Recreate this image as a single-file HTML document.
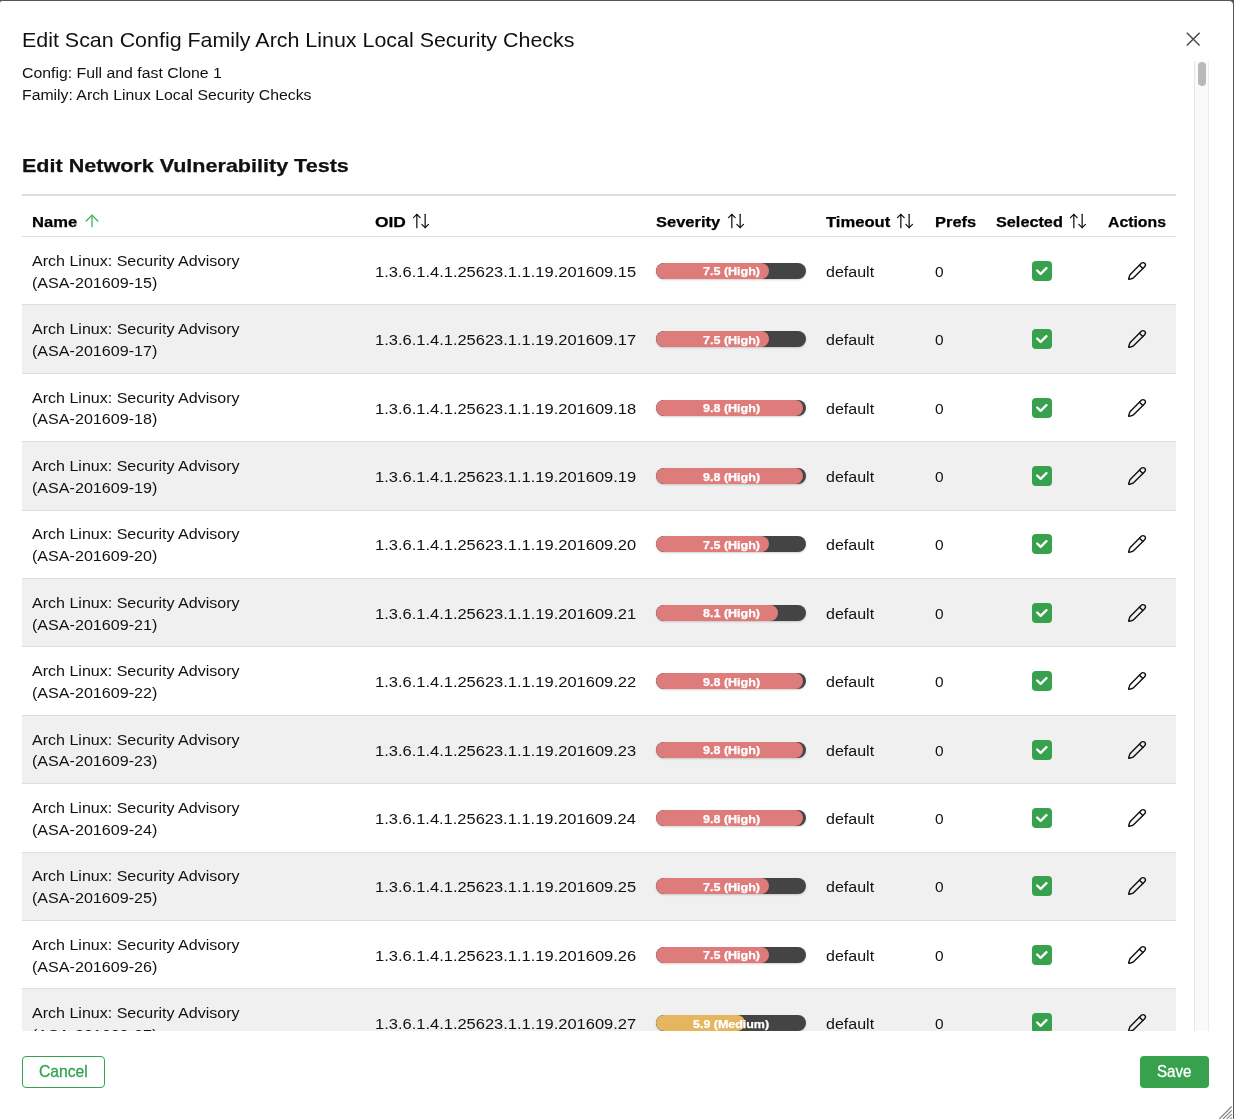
<!DOCTYPE html>
<html><head><meta charset="utf-8"><title>Edit Scan Config Family</title>
<style>
html,body{margin:0;padding:0;}
html{width:1234px;height:1119px;overflow:hidden;}
body{width:1234px;height:1119px;overflow:hidden;background:#555;position:relative;font-family:"Liberation Sans",sans-serif;}
#modal{position:absolute;left:0;top:1px;width:1233px;height:1118px;background:#fff;border-radius:2px 4px 0 0;overflow:hidden;}
#page{position:absolute;left:0;top:-1px;width:1234px;height:1119px;will-change:transform;}
.t{position:absolute;white-space:nowrap;line-height:1;transform-origin:0 50%;display:block;}
.ic{position:absolute;display:block;}
.sb{-webkit-text-stroke:0.3px currentColor;}
.vb{-webkit-text-stroke:0.25px currentColor;}
#scroll{position:absolute;left:0;top:61px;width:1194px;height:970px;overflow:hidden;}
#scroll .in{position:absolute;left:0;top:-61px;width:1194px;}
.row{position:absolute;left:22px;width:1154px;height:67.4px;border-bottom:1px solid #dedede;}
.row.g{background:#f0f0f0;}
.bar{position:absolute;left:634px;top:25.9px;width:150px;height:16px;border-radius:8px;background:#444;overflow:hidden;box-shadow:0 1px 2px rgba(0,0,0,.18);}
.bar i{position:absolute;left:0;top:0;height:16px;border-radius:8px;display:block;}
.cb{position:absolute;width:20px;height:20px;border-radius:4px;background:#37a14d;}
#track{position:absolute;left:1194px;top:61px;width:15px;height:970px;background:#fafafa;box-sizing:border-box;border-left:1px solid #e6e6e6;border-right:1px solid #ececec;}
#thumb{position:absolute;left:1198px;top:62px;width:8px;height:24px;border-radius:4px;background:#b9b9b9;}
.btn{position:absolute;top:1056px;height:32px;box-sizing:border-box;border-radius:4px;}
</style></head><body><div id="modal"><div id="page">

<span class="t" style="left:22.23px;top:27.00px;font-size:20.2px;line-height:26px;font-weight:400;color:#111;transform:scaleX(1.0611)">Edit Scan Config Family Arch Linux Local Security Checks</span>
<span class="t" style="left:22.00px;top:63.00px;font-size:14.75px;line-height:20px;font-weight:400;color:#111;transform:scaleX(1.0733)">Config: Full and fast Clone 1</span>
<span class="t" style="left:21.70px;top:85.00px;font-size:14.75px;line-height:20px;font-weight:400;color:#111;transform:scaleX(1.0700)">Family: Arch Linux Local Security Checks</span>
<span class="t vb" style="left:22.37px;top:153.00px;font-size:19.0px;line-height:25px;font-weight:700;color:#111;transform:scaleX(1.1338)">Edit Network Vulnerability Tests</span>
<svg class="ic" style="left:1183px;top:29px" width="20" height="20" viewBox="0 0 20 20" fill="none" stroke="#4a4a4a" stroke-width="1.5" stroke-linecap="butt"><path d="M3.8 3.7 16.6 16.5M16.6 3.7 3.8 16.5"/></svg>
<div id="scroll"><div class="in">
<div style="position:absolute;left:22px;top:194px;width:1154px;height:2px;background:#dedede"></div>
<div style="position:absolute;left:22px;top:236px;width:1154px;height:1px;background:#dedede"></div>
<span class="t vb" style="left:32.29px;top:212.00px;font-size:14.75px;line-height:20px;font-weight:700;color:#000;transform:scaleX(1.1237)">Name</span>
<span class="t vb" style="left:375.34px;top:212.00px;font-size:14.75px;line-height:20px;font-weight:700;color:#000;transform:scaleX(1.1791)">OID</span>
<span class="t vb" style="left:656.31px;top:212.00px;font-size:14.75px;line-height:20px;font-weight:700;color:#000;transform:scaleX(1.1187)">Severity</span>
<span class="t vb" style="left:825.70px;top:212.00px;font-size:14.75px;line-height:20px;font-weight:700;color:#000;transform:scaleX(1.1263)">Timeout</span>
<span class="t vb" style="left:935.10px;top:212.00px;font-size:14.75px;line-height:20px;font-weight:700;color:#000;transform:scaleX(1.1156)">Prefs</span>
<span class="t vb" style="left:996.12px;top:212.00px;font-size:14.75px;line-height:20px;font-weight:700;color:#000;transform:scaleX(1.1014)">Selected</span>
<span class="t vb" style="left:1108.06px;top:212.00px;font-size:14.75px;line-height:20px;font-weight:700;color:#000;transform:scaleX(1.0712)">Actions</span>
<svg class="ic" style="left:82px;top:211px" width="20" height="20" viewBox="0 0 24 24" fill="none" stroke="#3db15c" stroke-width="1.5" stroke-linecap="round" stroke-linejoin="round"><path d="m5 12 7-7 7 7"/><path d="M12 19V5"/></svg>
<svg class="ic" style="left:411px;top:211px" width="20" height="20" viewBox="0 0 24 24" fill="none" stroke="#111" stroke-width="1.5" stroke-linecap="round" stroke-linejoin="round"><path d="m21 16-4 4-4-4"/><path d="M17 20V4"/><path d="m3 8 4-4 4 4"/><path d="M7 4v16"/></svg>
<svg class="ic" style="left:726px;top:211px" width="20" height="20" viewBox="0 0 24 24" fill="none" stroke="#111" stroke-width="1.5" stroke-linecap="round" stroke-linejoin="round"><path d="m21 16-4 4-4-4"/><path d="M17 20V4"/><path d="m3 8 4-4 4 4"/><path d="M7 4v16"/></svg>
<svg class="ic" style="left:895px;top:211px" width="20" height="20" viewBox="0 0 24 24" fill="none" stroke="#111" stroke-width="1.5" stroke-linecap="round" stroke-linejoin="round"><path d="m21 16-4 4-4-4"/><path d="M17 20V4"/><path d="m3 8 4-4 4 4"/><path d="M7 4v16"/></svg>
<svg class="ic" style="left:1068px;top:211px" width="20" height="20" viewBox="0 0 24 24" fill="none" stroke="#111" stroke-width="1.5" stroke-linecap="round" stroke-linejoin="round"><path d="m21 16-4 4-4-4"/><path d="M17 20V4"/><path d="m3 8 4-4 4 4"/><path d="M7 4v16"/></svg>
<div class="row" style="top:237.0px">
<span class="t" style="left:10.31px;top:13.90px;font-size:14.75px;line-height:20px;font-weight:400;color:#111;transform:scaleX(1.0868)">Arch Linux: Security Advisory</span>
<span class="t" style="left:9.71px;top:35.60px;font-size:14.75px;line-height:20px;font-weight:400;color:#111;transform:scaleX(1.0912)">(ASA-201609-15)</span>
<span class="t" style="left:353.18px;top:24.75px;font-size:14.75px;line-height:20px;font-weight:400;color:#111;transform:scaleX(1.1172)">1.3.6.1.4.1.25623.1.1.19.201609.15</span>
<span class="t" style="left:804.05px;top:24.75px;font-size:14.75px;line-height:20px;font-weight:400;color:#111;transform:scaleX(1.0863)">default</span>
<span class="t" style="left:913.14px;top:24.75px;font-size:14.75px;line-height:20px;font-weight:400;color:#111;transform:scaleX(1.0465)">0</span>
<div class="bar"><i style="width:112.5px;background:#de7b7b"></i></div>
<span class="t vb" style="left:680.56px;top:27.40px;font-size:10.3px;line-height:15px;font-weight:700;color:#fff;transform:scaleX(1.2155)">7.5 (High)</span>
<div class="cb" style="left:1010px;top:23.9px"><svg viewBox="0 0 10 7" width="11.6" height="8.1" style="position:absolute;left:4.2px;top:6px"><path d="M4 4.586L1.707 2.293A1 1 0 1 0 .293 3.707l3 3a.997.997 0 0 0 1.414 0l5-5A1 1 0 1 0 8.293.293L4 4.586z" fill="#fff" fill-rule="evenodd" clip-rule="evenodd"/></svg></div>
<svg class="ic" style="left:1105px;top:23.9px" width="20" height="20" viewBox="0 0 24 24" fill="none" stroke="#111" stroke-width="1.7" stroke-linecap="round" stroke-linejoin="round"><path d="M21.174 6.812a1 1 0 0 0-3.986-3.987L3.842 16.174a2 2 0 0 0-.5.83l-1.321 4.352a.5.5 0 0 0 .623.622l4.353-1.32a2 2 0 0 0 .83-.497z"/><path d="m15 5 4 4"/></svg>
</div>
<div class="row g" style="top:305.4px">
<span class="t" style="left:10.31px;top:13.90px;font-size:14.75px;line-height:20px;font-weight:400;color:#111;transform:scaleX(1.0868)">Arch Linux: Security Advisory</span>
<span class="t" style="left:9.71px;top:35.60px;font-size:14.75px;line-height:20px;font-weight:400;color:#111;transform:scaleX(1.0912)">(ASA-201609-17)</span>
<span class="t" style="left:353.18px;top:24.75px;font-size:14.75px;line-height:20px;font-weight:400;color:#111;transform:scaleX(1.1172)">1.3.6.1.4.1.25623.1.1.19.201609.17</span>
<span class="t" style="left:804.05px;top:24.75px;font-size:14.75px;line-height:20px;font-weight:400;color:#111;transform:scaleX(1.0863)">default</span>
<span class="t" style="left:913.14px;top:24.75px;font-size:14.75px;line-height:20px;font-weight:400;color:#111;transform:scaleX(1.0465)">0</span>
<div class="bar"><i style="width:112.5px;background:#de7b7b"></i></div>
<span class="t vb" style="left:680.56px;top:27.40px;font-size:10.3px;line-height:15px;font-weight:700;color:#fff;transform:scaleX(1.2155)">7.5 (High)</span>
<div class="cb" style="left:1010px;top:23.9px"><svg viewBox="0 0 10 7" width="11.6" height="8.1" style="position:absolute;left:4.2px;top:6px"><path d="M4 4.586L1.707 2.293A1 1 0 1 0 .293 3.707l3 3a.997.997 0 0 0 1.414 0l5-5A1 1 0 1 0 8.293.293L4 4.586z" fill="#fff" fill-rule="evenodd" clip-rule="evenodd"/></svg></div>
<svg class="ic" style="left:1105px;top:23.9px" width="20" height="20" viewBox="0 0 24 24" fill="none" stroke="#111" stroke-width="1.7" stroke-linecap="round" stroke-linejoin="round"><path d="M21.174 6.812a1 1 0 0 0-3.986-3.987L3.842 16.174a2 2 0 0 0-.5.83l-1.321 4.352a.5.5 0 0 0 .623.622l4.353-1.32a2 2 0 0 0 .83-.497z"/><path d="m15 5 4 4"/></svg>
</div>
<div class="row" style="top:373.8px">
<span class="t" style="left:10.31px;top:13.90px;font-size:14.75px;line-height:20px;font-weight:400;color:#111;transform:scaleX(1.0868)">Arch Linux: Security Advisory</span>
<span class="t" style="left:9.71px;top:35.60px;font-size:14.75px;line-height:20px;font-weight:400;color:#111;transform:scaleX(1.0912)">(ASA-201609-18)</span>
<span class="t" style="left:353.18px;top:24.75px;font-size:14.75px;line-height:20px;font-weight:400;color:#111;transform:scaleX(1.1172)">1.3.6.1.4.1.25623.1.1.19.201609.18</span>
<span class="t" style="left:804.05px;top:24.75px;font-size:14.75px;line-height:20px;font-weight:400;color:#111;transform:scaleX(1.0863)">default</span>
<span class="t" style="left:913.14px;top:24.75px;font-size:14.75px;line-height:20px;font-weight:400;color:#111;transform:scaleX(1.0465)">0</span>
<div class="bar"><i style="width:147.0px;background:#de7b7b"></i></div>
<span class="t vb" style="left:680.53px;top:27.40px;font-size:10.3px;line-height:15px;font-weight:700;color:#fff;transform:scaleX(1.2163)">9.8 (High)</span>
<div class="cb" style="left:1010px;top:23.9px"><svg viewBox="0 0 10 7" width="11.6" height="8.1" style="position:absolute;left:4.2px;top:6px"><path d="M4 4.586L1.707 2.293A1 1 0 1 0 .293 3.707l3 3a.997.997 0 0 0 1.414 0l5-5A1 1 0 1 0 8.293.293L4 4.586z" fill="#fff" fill-rule="evenodd" clip-rule="evenodd"/></svg></div>
<svg class="ic" style="left:1105px;top:23.9px" width="20" height="20" viewBox="0 0 24 24" fill="none" stroke="#111" stroke-width="1.7" stroke-linecap="round" stroke-linejoin="round"><path d="M21.174 6.812a1 1 0 0 0-3.986-3.987L3.842 16.174a2 2 0 0 0-.5.83l-1.321 4.352a.5.5 0 0 0 .623.622l4.353-1.32a2 2 0 0 0 .83-.497z"/><path d="m15 5 4 4"/></svg>
</div>
<div class="row g" style="top:442.2px">
<span class="t" style="left:10.31px;top:13.90px;font-size:14.75px;line-height:20px;font-weight:400;color:#111;transform:scaleX(1.0868)">Arch Linux: Security Advisory</span>
<span class="t" style="left:9.71px;top:35.60px;font-size:14.75px;line-height:20px;font-weight:400;color:#111;transform:scaleX(1.0912)">(ASA-201609-19)</span>
<span class="t" style="left:353.18px;top:24.75px;font-size:14.75px;line-height:20px;font-weight:400;color:#111;transform:scaleX(1.1172)">1.3.6.1.4.1.25623.1.1.19.201609.19</span>
<span class="t" style="left:804.05px;top:24.75px;font-size:14.75px;line-height:20px;font-weight:400;color:#111;transform:scaleX(1.0863)">default</span>
<span class="t" style="left:913.14px;top:24.75px;font-size:14.75px;line-height:20px;font-weight:400;color:#111;transform:scaleX(1.0465)">0</span>
<div class="bar"><i style="width:147.0px;background:#de7b7b"></i></div>
<span class="t vb" style="left:680.53px;top:27.40px;font-size:10.3px;line-height:15px;font-weight:700;color:#fff;transform:scaleX(1.2163)">9.8 (High)</span>
<div class="cb" style="left:1010px;top:23.9px"><svg viewBox="0 0 10 7" width="11.6" height="8.1" style="position:absolute;left:4.2px;top:6px"><path d="M4 4.586L1.707 2.293A1 1 0 1 0 .293 3.707l3 3a.997.997 0 0 0 1.414 0l5-5A1 1 0 1 0 8.293.293L4 4.586z" fill="#fff" fill-rule="evenodd" clip-rule="evenodd"/></svg></div>
<svg class="ic" style="left:1105px;top:23.9px" width="20" height="20" viewBox="0 0 24 24" fill="none" stroke="#111" stroke-width="1.7" stroke-linecap="round" stroke-linejoin="round"><path d="M21.174 6.812a1 1 0 0 0-3.986-3.987L3.842 16.174a2 2 0 0 0-.5.83l-1.321 4.352a.5.5 0 0 0 .623.622l4.353-1.32a2 2 0 0 0 .83-.497z"/><path d="m15 5 4 4"/></svg>
</div>
<div class="row" style="top:510.6px">
<span class="t" style="left:10.31px;top:13.90px;font-size:14.75px;line-height:20px;font-weight:400;color:#111;transform:scaleX(1.0868)">Arch Linux: Security Advisory</span>
<span class="t" style="left:9.71px;top:35.60px;font-size:14.75px;line-height:20px;font-weight:400;color:#111;transform:scaleX(1.0912)">(ASA-201609-20)</span>
<span class="t" style="left:353.18px;top:24.75px;font-size:14.75px;line-height:20px;font-weight:400;color:#111;transform:scaleX(1.1172)">1.3.6.1.4.1.25623.1.1.19.201609.20</span>
<span class="t" style="left:804.05px;top:24.75px;font-size:14.75px;line-height:20px;font-weight:400;color:#111;transform:scaleX(1.0863)">default</span>
<span class="t" style="left:913.14px;top:24.75px;font-size:14.75px;line-height:20px;font-weight:400;color:#111;transform:scaleX(1.0465)">0</span>
<div class="bar"><i style="width:112.5px;background:#de7b7b"></i></div>
<span class="t vb" style="left:680.56px;top:27.40px;font-size:10.3px;line-height:15px;font-weight:700;color:#fff;transform:scaleX(1.2155)">7.5 (High)</span>
<div class="cb" style="left:1010px;top:23.9px"><svg viewBox="0 0 10 7" width="11.6" height="8.1" style="position:absolute;left:4.2px;top:6px"><path d="M4 4.586L1.707 2.293A1 1 0 1 0 .293 3.707l3 3a.997.997 0 0 0 1.414 0l5-5A1 1 0 1 0 8.293.293L4 4.586z" fill="#fff" fill-rule="evenodd" clip-rule="evenodd"/></svg></div>
<svg class="ic" style="left:1105px;top:23.9px" width="20" height="20" viewBox="0 0 24 24" fill="none" stroke="#111" stroke-width="1.7" stroke-linecap="round" stroke-linejoin="round"><path d="M21.174 6.812a1 1 0 0 0-3.986-3.987L3.842 16.174a2 2 0 0 0-.5.83l-1.321 4.352a.5.5 0 0 0 .623.622l4.353-1.32a2 2 0 0 0 .83-.497z"/><path d="m15 5 4 4"/></svg>
</div>
<div class="row g" style="top:579.0px">
<span class="t" style="left:10.31px;top:13.90px;font-size:14.75px;line-height:20px;font-weight:400;color:#111;transform:scaleX(1.0868)">Arch Linux: Security Advisory</span>
<span class="t" style="left:9.71px;top:35.60px;font-size:14.75px;line-height:20px;font-weight:400;color:#111;transform:scaleX(1.0912)">(ASA-201609-21)</span>
<span class="t" style="left:353.18px;top:24.75px;font-size:14.75px;line-height:20px;font-weight:400;color:#111;transform:scaleX(1.1172)">1.3.6.1.4.1.25623.1.1.19.201609.21</span>
<span class="t" style="left:804.05px;top:24.75px;font-size:14.75px;line-height:20px;font-weight:400;color:#111;transform:scaleX(1.0863)">default</span>
<span class="t" style="left:913.14px;top:24.75px;font-size:14.75px;line-height:20px;font-weight:400;color:#111;transform:scaleX(1.0465)">0</span>
<div class="bar"><i style="width:121.5px;background:#de7b7b"></i></div>
<span class="t vb" style="left:680.56px;top:27.40px;font-size:10.3px;line-height:15px;font-weight:700;color:#fff;transform:scaleX(1.2155)">8.1 (High)</span>
<div class="cb" style="left:1010px;top:23.9px"><svg viewBox="0 0 10 7" width="11.6" height="8.1" style="position:absolute;left:4.2px;top:6px"><path d="M4 4.586L1.707 2.293A1 1 0 1 0 .293 3.707l3 3a.997.997 0 0 0 1.414 0l5-5A1 1 0 1 0 8.293.293L4 4.586z" fill="#fff" fill-rule="evenodd" clip-rule="evenodd"/></svg></div>
<svg class="ic" style="left:1105px;top:23.9px" width="20" height="20" viewBox="0 0 24 24" fill="none" stroke="#111" stroke-width="1.7" stroke-linecap="round" stroke-linejoin="round"><path d="M21.174 6.812a1 1 0 0 0-3.986-3.987L3.842 16.174a2 2 0 0 0-.5.83l-1.321 4.352a.5.5 0 0 0 .623.622l4.353-1.32a2 2 0 0 0 .83-.497z"/><path d="m15 5 4 4"/></svg>
</div>
<div class="row" style="top:647.4px">
<span class="t" style="left:10.31px;top:13.90px;font-size:14.75px;line-height:20px;font-weight:400;color:#111;transform:scaleX(1.0868)">Arch Linux: Security Advisory</span>
<span class="t" style="left:9.71px;top:35.60px;font-size:14.75px;line-height:20px;font-weight:400;color:#111;transform:scaleX(1.0912)">(ASA-201609-22)</span>
<span class="t" style="left:353.18px;top:24.75px;font-size:14.75px;line-height:20px;font-weight:400;color:#111;transform:scaleX(1.1172)">1.3.6.1.4.1.25623.1.1.19.201609.22</span>
<span class="t" style="left:804.05px;top:24.75px;font-size:14.75px;line-height:20px;font-weight:400;color:#111;transform:scaleX(1.0863)">default</span>
<span class="t" style="left:913.14px;top:24.75px;font-size:14.75px;line-height:20px;font-weight:400;color:#111;transform:scaleX(1.0465)">0</span>
<div class="bar"><i style="width:147.0px;background:#de7b7b"></i></div>
<span class="t vb" style="left:680.53px;top:27.40px;font-size:10.3px;line-height:15px;font-weight:700;color:#fff;transform:scaleX(1.2163)">9.8 (High)</span>
<div class="cb" style="left:1010px;top:23.9px"><svg viewBox="0 0 10 7" width="11.6" height="8.1" style="position:absolute;left:4.2px;top:6px"><path d="M4 4.586L1.707 2.293A1 1 0 1 0 .293 3.707l3 3a.997.997 0 0 0 1.414 0l5-5A1 1 0 1 0 8.293.293L4 4.586z" fill="#fff" fill-rule="evenodd" clip-rule="evenodd"/></svg></div>
<svg class="ic" style="left:1105px;top:23.9px" width="20" height="20" viewBox="0 0 24 24" fill="none" stroke="#111" stroke-width="1.7" stroke-linecap="round" stroke-linejoin="round"><path d="M21.174 6.812a1 1 0 0 0-3.986-3.987L3.842 16.174a2 2 0 0 0-.5.83l-1.321 4.352a.5.5 0 0 0 .623.622l4.353-1.32a2 2 0 0 0 .83-.497z"/><path d="m15 5 4 4"/></svg>
</div>
<div class="row g" style="top:715.8px">
<span class="t" style="left:10.31px;top:13.90px;font-size:14.75px;line-height:20px;font-weight:400;color:#111;transform:scaleX(1.0868)">Arch Linux: Security Advisory</span>
<span class="t" style="left:9.71px;top:35.60px;font-size:14.75px;line-height:20px;font-weight:400;color:#111;transform:scaleX(1.0912)">(ASA-201609-23)</span>
<span class="t" style="left:353.18px;top:24.75px;font-size:14.75px;line-height:20px;font-weight:400;color:#111;transform:scaleX(1.1172)">1.3.6.1.4.1.25623.1.1.19.201609.23</span>
<span class="t" style="left:804.05px;top:24.75px;font-size:14.75px;line-height:20px;font-weight:400;color:#111;transform:scaleX(1.0863)">default</span>
<span class="t" style="left:913.14px;top:24.75px;font-size:14.75px;line-height:20px;font-weight:400;color:#111;transform:scaleX(1.0465)">0</span>
<div class="bar"><i style="width:147.0px;background:#de7b7b"></i></div>
<span class="t vb" style="left:680.53px;top:27.40px;font-size:10.3px;line-height:15px;font-weight:700;color:#fff;transform:scaleX(1.2163)">9.8 (High)</span>
<div class="cb" style="left:1010px;top:23.9px"><svg viewBox="0 0 10 7" width="11.6" height="8.1" style="position:absolute;left:4.2px;top:6px"><path d="M4 4.586L1.707 2.293A1 1 0 1 0 .293 3.707l3 3a.997.997 0 0 0 1.414 0l5-5A1 1 0 1 0 8.293.293L4 4.586z" fill="#fff" fill-rule="evenodd" clip-rule="evenodd"/></svg></div>
<svg class="ic" style="left:1105px;top:23.9px" width="20" height="20" viewBox="0 0 24 24" fill="none" stroke="#111" stroke-width="1.7" stroke-linecap="round" stroke-linejoin="round"><path d="M21.174 6.812a1 1 0 0 0-3.986-3.987L3.842 16.174a2 2 0 0 0-.5.83l-1.321 4.352a.5.5 0 0 0 .623.622l4.353-1.32a2 2 0 0 0 .83-.497z"/><path d="m15 5 4 4"/></svg>
</div>
<div class="row" style="top:784.2px">
<span class="t" style="left:10.31px;top:13.90px;font-size:14.75px;line-height:20px;font-weight:400;color:#111;transform:scaleX(1.0868)">Arch Linux: Security Advisory</span>
<span class="t" style="left:9.71px;top:35.60px;font-size:14.75px;line-height:20px;font-weight:400;color:#111;transform:scaleX(1.0912)">(ASA-201609-24)</span>
<span class="t" style="left:353.18px;top:24.75px;font-size:14.75px;line-height:20px;font-weight:400;color:#111;transform:scaleX(1.1157)">1.3.6.1.4.1.25623.1.1.19.201609.24</span>
<span class="t" style="left:804.05px;top:24.75px;font-size:14.75px;line-height:20px;font-weight:400;color:#111;transform:scaleX(1.0863)">default</span>
<span class="t" style="left:913.14px;top:24.75px;font-size:14.75px;line-height:20px;font-weight:400;color:#111;transform:scaleX(1.0465)">0</span>
<div class="bar"><i style="width:147.0px;background:#de7b7b"></i></div>
<span class="t vb" style="left:680.53px;top:27.40px;font-size:10.3px;line-height:15px;font-weight:700;color:#fff;transform:scaleX(1.2163)">9.8 (High)</span>
<div class="cb" style="left:1010px;top:23.9px"><svg viewBox="0 0 10 7" width="11.6" height="8.1" style="position:absolute;left:4.2px;top:6px"><path d="M4 4.586L1.707 2.293A1 1 0 1 0 .293 3.707l3 3a.997.997 0 0 0 1.414 0l5-5A1 1 0 1 0 8.293.293L4 4.586z" fill="#fff" fill-rule="evenodd" clip-rule="evenodd"/></svg></div>
<svg class="ic" style="left:1105px;top:23.9px" width="20" height="20" viewBox="0 0 24 24" fill="none" stroke="#111" stroke-width="1.7" stroke-linecap="round" stroke-linejoin="round"><path d="M21.174 6.812a1 1 0 0 0-3.986-3.987L3.842 16.174a2 2 0 0 0-.5.83l-1.321 4.352a.5.5 0 0 0 .623.622l4.353-1.32a2 2 0 0 0 .83-.497z"/><path d="m15 5 4 4"/></svg>
</div>
<div class="row g" style="top:852.6px">
<span class="t" style="left:10.31px;top:13.90px;font-size:14.75px;line-height:20px;font-weight:400;color:#111;transform:scaleX(1.0868)">Arch Linux: Security Advisory</span>
<span class="t" style="left:9.71px;top:35.60px;font-size:14.75px;line-height:20px;font-weight:400;color:#111;transform:scaleX(1.0912)">(ASA-201609-25)</span>
<span class="t" style="left:353.18px;top:24.75px;font-size:14.75px;line-height:20px;font-weight:400;color:#111;transform:scaleX(1.1172)">1.3.6.1.4.1.25623.1.1.19.201609.25</span>
<span class="t" style="left:804.05px;top:24.75px;font-size:14.75px;line-height:20px;font-weight:400;color:#111;transform:scaleX(1.0863)">default</span>
<span class="t" style="left:913.14px;top:24.75px;font-size:14.75px;line-height:20px;font-weight:400;color:#111;transform:scaleX(1.0465)">0</span>
<div class="bar"><i style="width:112.5px;background:#de7b7b"></i></div>
<span class="t vb" style="left:680.56px;top:27.40px;font-size:10.3px;line-height:15px;font-weight:700;color:#fff;transform:scaleX(1.2155)">7.5 (High)</span>
<div class="cb" style="left:1010px;top:23.9px"><svg viewBox="0 0 10 7" width="11.6" height="8.1" style="position:absolute;left:4.2px;top:6px"><path d="M4 4.586L1.707 2.293A1 1 0 1 0 .293 3.707l3 3a.997.997 0 0 0 1.414 0l5-5A1 1 0 1 0 8.293.293L4 4.586z" fill="#fff" fill-rule="evenodd" clip-rule="evenodd"/></svg></div>
<svg class="ic" style="left:1105px;top:23.9px" width="20" height="20" viewBox="0 0 24 24" fill="none" stroke="#111" stroke-width="1.7" stroke-linecap="round" stroke-linejoin="round"><path d="M21.174 6.812a1 1 0 0 0-3.986-3.987L3.842 16.174a2 2 0 0 0-.5.83l-1.321 4.352a.5.5 0 0 0 .623.622l4.353-1.32a2 2 0 0 0 .83-.497z"/><path d="m15 5 4 4"/></svg>
</div>
<div class="row" style="top:921.0px">
<span class="t" style="left:10.31px;top:13.90px;font-size:14.75px;line-height:20px;font-weight:400;color:#111;transform:scaleX(1.0868)">Arch Linux: Security Advisory</span>
<span class="t" style="left:9.71px;top:35.60px;font-size:14.75px;line-height:20px;font-weight:400;color:#111;transform:scaleX(1.0912)">(ASA-201609-26)</span>
<span class="t" style="left:353.18px;top:24.75px;font-size:14.75px;line-height:20px;font-weight:400;color:#111;transform:scaleX(1.1172)">1.3.6.1.4.1.25623.1.1.19.201609.26</span>
<span class="t" style="left:804.05px;top:24.75px;font-size:14.75px;line-height:20px;font-weight:400;color:#111;transform:scaleX(1.0863)">default</span>
<span class="t" style="left:913.14px;top:24.75px;font-size:14.75px;line-height:20px;font-weight:400;color:#111;transform:scaleX(1.0465)">0</span>
<div class="bar"><i style="width:112.5px;background:#de7b7b"></i></div>
<span class="t vb" style="left:680.56px;top:27.40px;font-size:10.3px;line-height:15px;font-weight:700;color:#fff;transform:scaleX(1.2155)">7.5 (High)</span>
<div class="cb" style="left:1010px;top:23.9px"><svg viewBox="0 0 10 7" width="11.6" height="8.1" style="position:absolute;left:4.2px;top:6px"><path d="M4 4.586L1.707 2.293A1 1 0 1 0 .293 3.707l3 3a.997.997 0 0 0 1.414 0l5-5A1 1 0 1 0 8.293.293L4 4.586z" fill="#fff" fill-rule="evenodd" clip-rule="evenodd"/></svg></div>
<svg class="ic" style="left:1105px;top:23.9px" width="20" height="20" viewBox="0 0 24 24" fill="none" stroke="#111" stroke-width="1.7" stroke-linecap="round" stroke-linejoin="round"><path d="M21.174 6.812a1 1 0 0 0-3.986-3.987L3.842 16.174a2 2 0 0 0-.5.83l-1.321 4.352a.5.5 0 0 0 .623.622l4.353-1.32a2 2 0 0 0 .83-.497z"/><path d="m15 5 4 4"/></svg>
</div>
<div class="row g" style="top:989.4px">
<span class="t" style="left:10.31px;top:13.90px;font-size:14.75px;line-height:20px;font-weight:400;color:#111;transform:scaleX(1.0868)">Arch Linux: Security Advisory</span>
<span class="t" style="left:9.71px;top:35.60px;font-size:14.75px;line-height:20px;font-weight:400;color:#111;transform:scaleX(1.0912)">(ASA-201609-27)</span>
<span class="t" style="left:353.18px;top:24.75px;font-size:14.75px;line-height:20px;font-weight:400;color:#111;transform:scaleX(1.1172)">1.3.6.1.4.1.25623.1.1.19.201609.27</span>
<span class="t" style="left:804.05px;top:24.75px;font-size:14.75px;line-height:20px;font-weight:400;color:#111;transform:scaleX(1.0863)">default</span>
<span class="t" style="left:913.14px;top:24.75px;font-size:14.75px;line-height:20px;font-weight:400;color:#111;transform:scaleX(1.0465)">0</span>
<div class="bar"><i style="width:88.5px;background:#e5b55f"></i></div>
<span class="t vb" style="left:671.03px;top:27.40px;font-size:10.3px;line-height:15px;font-weight:700;color:#fff;transform:scaleX(1.2089)">5.9 (Medium)</span>
<div class="cb" style="left:1010px;top:23.9px"><svg viewBox="0 0 10 7" width="11.6" height="8.1" style="position:absolute;left:4.2px;top:6px"><path d="M4 4.586L1.707 2.293A1 1 0 1 0 .293 3.707l3 3a.997.997 0 0 0 1.414 0l5-5A1 1 0 1 0 8.293.293L4 4.586z" fill="#fff" fill-rule="evenodd" clip-rule="evenodd"/></svg></div>
<svg class="ic" style="left:1105px;top:23.9px" width="20" height="20" viewBox="0 0 24 24" fill="none" stroke="#111" stroke-width="1.7" stroke-linecap="round" stroke-linejoin="round"><path d="M21.174 6.812a1 1 0 0 0-3.986-3.987L3.842 16.174a2 2 0 0 0-.5.83l-1.321 4.352a.5.5 0 0 0 .623.622l4.353-1.32a2 2 0 0 0 .83-.497z"/><path d="m15 5 4 4"/></svg>
</div>
</div></div>
<div id="track"></div><div id="thumb"></div>
<div class="btn" style="left:22px;width:83px;border:1px solid #37a14d;background:#fff"></div>
<div class="btn" style="left:1140px;width:69px;background:#37a14d"></div>
<span class="t sb" style="left:39.09px;top:1061.00px;font-size:15.9px;line-height:21px;font-weight:400;color:#2da44a;transform:scaleX(0.9852)">Cancel</span>
<span class="t sb" style="left:1157.28px;top:1061.00px;font-size:15.9px;line-height:21px;font-weight:400;color:#fff;transform:scaleX(0.9488)">Save</span>
<svg class="ic" style="left:1214px;top:1100px" width="19" height="19" viewBox="0 0 19 19" fill="none" stroke="#828282" stroke-width="1.15"><path d="M5.2 19 17.7 6.5M9 19 17.7 10.3M12.8 19 17.7 14.1M16.4 19 17.7 17.7"/></svg>
</div></div></body></html>
